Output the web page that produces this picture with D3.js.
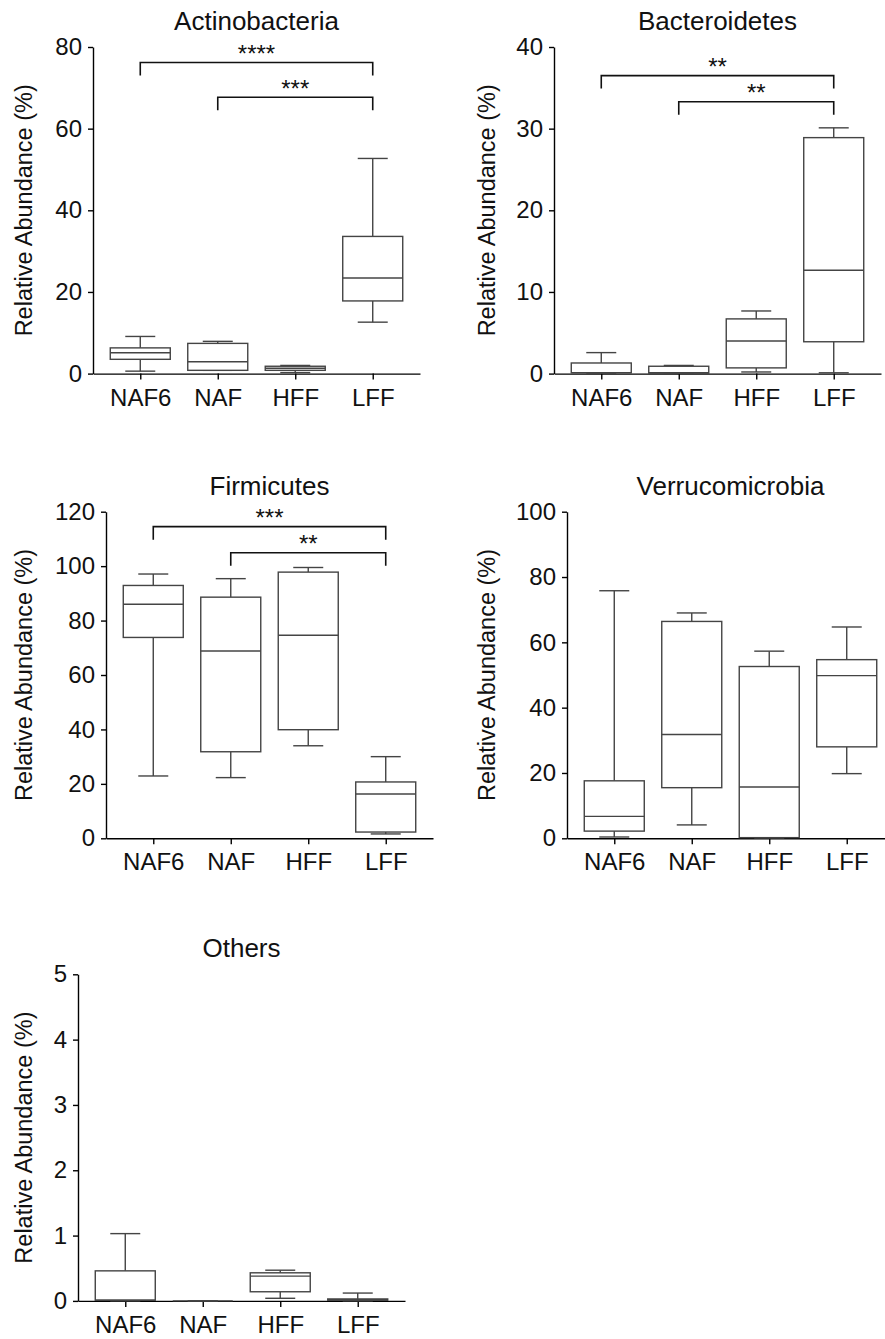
<!DOCTYPE html>
<html>
<head>
<meta charset="utf-8">
<script src="https://cdn.jsdelivr.net/npm/d3@7"></script>
<style>
  body { margin: 0; background: #fff; }
  svg { display: block; font-family: "Liberation Sans", Arial, Helvetica, sans-serif; }
  .axis path, .axis line { stroke: #000; stroke-width: 1.4px; }
  .axis text { fill: #111; }
  .box { fill: #fff; stroke: #444; stroke-width: 1.4px; }
  .whisker { stroke: #444; stroke-width: 1.4px; }
  .bracket { fill: none; stroke: #111; stroke-width: 1.6px; }
</style>
</head>
<body>
<svg id="chart" width="885" height="1339" viewBox="0 0 885 1339"></svg>
<script>

// groups on the x axis
const groups = ["NAF6", "NAF", "HFF", "LFF"];

const phyla = ["Actinobacteria", "Bacteroidetes", "Firmicutes", "Verrucomicrobia", "Others"];
const yMax = [80, 40, 120, 100, 5];
const yStep = [20, 10, 20, 20, 1];

// box stats per group: [min, q1, median, q3, max]
const actinobacteria = [[0.6, 3.5, 5.1, 6.3, 9.1], [0.8, 0.8, 2.9, 7.4, 7.9], [0.25, 0.8, 1.3, 1.8, 2.0], [12.6, 17.8, 23.4, 33.6, 52.7]];
const bacteroidetes = [[0.05, 0.1, 0.12, 1.3, 2.57], [0.02, 0.05, 0.1, 0.9, 1.0], [0.2, 0.7, 4.0, 6.7, 7.67], [0.1, 3.9, 12.65, 28.9, 30.1]];
const firmicutes = [[22.9, 73.8, 86.0, 92.9, 97.1], [22.3, 31.8, 68.8, 88.6, 95.4], [34.0, 39.9, 74.6, 97.8, 99.5], [1.6, 2.3, 16.3, 20.7, 30.0]];
const verrucomicrobia = [[0.4, 2.2, 6.7, 17.6, 75.8], [4.1, 15.5, 31.8, 66.4, 69.0], [0.1, 0.2, 15.7, 52.6, 57.3], [19.8, 28.0, 49.8, 54.7, 64.7]];
const others = [[0.0, 0.01, 0.01, 0.46, 1.03], [0, 0, 0, 0, 0], [0.04, 0.14, 0.38, 0.43, 0.47], [0.0, 0.01, 0.015, 0.03, 0.12]];
const boxData = [actinobacteria, bacteroidetes, firmicutes, verrucomicrobia, others];

// significance brackets (y in data units)
const actinoSig = [{from: "NAF6", to: "LFF", y: 76.2, label: "****"}, {from: "NAF", to: "LFF", y: 67.7, label: "***"}];
const bacteroSig = [{from: "NAF6", to: "LFF", y: 36.5, label: "**"}, {from: "NAF", to: "LFF", y: 33.3, label: "**"}];
const firmiSig = [{from: "NAF6", to: "LFF", y: 114.5, label: "***"}, {from: "NAF", to: "LFF", y: 104.9, label: "**"}];
const sigData = [actinoSig, bacteroSig, firmiSig, [], []];

// panel layout
const panelLeft = [93, 554, 106, 567, 78];
const panelTop = [47, 47, 511.7, 511.7, 974.3];
const labelOffset = [69, 67, 82, 80, 54];
const plotW = 327, plotH = 326.6;

const svg = d3.select("#chart");

phyla.forEach((name, i) => {
	const x0 = panelLeft[i], top = panelTop[i];

	const x = d3.scalePoint()
		.domain(groups)
		.range([x0, x0 + plotW])
		.padding(0.61);

	const y = d3.scaleLinear()
		.domain([0, yMax[i]])
		.range([top + plotH, top]);

	const g = svg.append("g");

	// title
	g.append("text")
		.attr("x", x0 + plotW / 2)
		.attr("y", top - 17)
		.attr("text-anchor", "middle")
		.style("font-size", "26px")
		.style("fill", "#111")
		.text(name);

	// y axis
	g.append("g")
		.attr("class", "axis")
		.attr("transform", "translate(" + x0 + ",0)")
		.call(d3.axisLeft(y)
			.tickValues(d3.range(0, yMax[i] + yStep[i] / 2, yStep[i]))
			.tickFormat(d3.format("d"))
			.tickSize(5)
			.tickSizeOuter(0)
			.tickPadding(6))
		.selectAll("text")
		.style("font-size", "24px");

	// x axis
	g.append("g")
		.attr("class", "axis")
		.attr("transform", "translate(0," + (top + plotH) + ")")
		.call(d3.axisBottom(x)
			.tickSize(6)
			.tickSizeOuter(0)
			.tickPadding(9))
		.selectAll("text")
		.style("font-size", "24px");

	// y label
	g.append("text")
		.attr("transform", "translate(" + (x0 - labelOffset[i]) + "," + (top + plotH / 2) + ") rotate(-90)")
		.attr("text-anchor", "middle")
		.attr("dominant-baseline", "central")
		.style("font-size", "23.5px")
		.style("fill", "#111")
		.text("Relative Abundance (%)");

	// boxes
	const bw = 60, cw = 30;
	const boxes = g.selectAll(".bp")
		.data(boxData[i].map((d, k) => ({group: groups[k], s: d})))
		.enter().append("g")
		.attr("class", "bp");

	boxes.append("line").attr("class", "whisker")
		.attr("x1", d => x(d.group)).attr("x2", d => x(d.group))
		.attr("y1", d => y(d.s[3])).attr("y2", d => y(d.s[4]));
	boxes.append("line").attr("class", "whisker")
		.attr("x1", d => x(d.group)).attr("x2", d => x(d.group))
		.attr("y1", d => y(d.s[1])).attr("y2", d => y(d.s[0]));
	boxes.append("line").attr("class", "whisker")
		.attr("x1", d => x(d.group) - cw / 2).attr("x2", d => x(d.group) + cw / 2)
		.attr("y1", d => y(d.s[4])).attr("y2", d => y(d.s[4]));
	boxes.append("line").attr("class", "whisker")
		.attr("x1", d => x(d.group) - cw / 2).attr("x2", d => x(d.group) + cw / 2)
		.attr("y1", d => y(d.s[0])).attr("y2", d => y(d.s[0]));
	boxes.append("rect").attr("class", "box")
		.attr("x", d => x(d.group) - bw / 2)
		.attr("width", bw)
		.attr("y", d => y(d.s[3]))
		.attr("height", d => y(d.s[1]) - y(d.s[3]));
	boxes.append("line").attr("class", "whisker")
		.attr("x1", d => x(d.group) - bw / 2).attr("x2", d => x(d.group) + bw / 2)
		.attr("y1", d => y(d.s[2])).attr("y2", d => y(d.s[2]));

	// significance brackets
	const leg = 13;
	sigData[i].forEach(b => {
		const xa = x(b.from), xb = x(b.to), yy = y(b.y);
		g.append("path")
			.attr("class", "bracket")
			.attr("d", "M" + xa + "," + (yy + leg) + "V" + yy + "H" + xb + "V" + (yy + leg));
		g.append("text")
			.attr("x", (xa + xb) / 2)
			.attr("y", yy - 9)
			.attr("text-anchor", "middle")
			.attr("dominant-baseline", "central")
			.style("font-size", "24px")
			.style("fill", "#111")
			.text(b.label);
	});
});

</script>
</body>
</html>
